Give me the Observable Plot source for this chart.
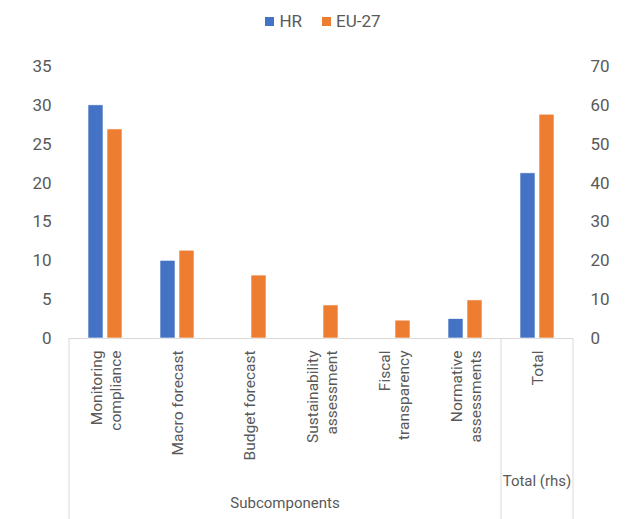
<!DOCTYPE html>
<html>
<head>
<meta charset="utf-8">
<script src="https://cdn.jsdelivr.net/npm/d3@7"></script>
<script src="https://cdn.jsdelivr.net/npm/@observablehq/plot@0.6"></script>
<style>
  body { margin: 0; background: #fff; font-family: Roboto, sans-serif; }
  #legend { height: 42px; display: flex; justify-content: center; align-items: center; color: #595959; font-size: 17px; padding-left: 20px; box-sizing: border-box; width: 626px; }
  .item { display: flex; align-items: center; margin: 0 10px; }
  .sw { width: 9px; height: 9px; margin-right: 5px; }
</style>
</head>
<body>
<div id="legend"></div>
<div id="chart"></div>
<script>
const categories = ["Monitoring compliance", "Macro forecast", "Budget forecast", "Sustainability assessment", "Fiscal transparency", "Normative assessments", "Total"];
const tickLabels = ["Monitoring\ncompliance", "Macro forecast", "Budget forecast", "Sustainability\nassessment", "Fiscal\ntransparency", "Normative\nassessments", "Total"];
const series = ["HR", "EU-27"];
const colors = ["#4472C4", "#ED7D31"];
const hrValues = [30, 10, null, null, null, 2.5];
const euValues = [26.9, 11.3, 8.1, 4.25, 2.3, 4.9];
const totalValues = [42.5, 57.6]; // right-hand scale (0-70)
const leftTicks = [0, 5, 10, 15, 20, 25, 30, 35];
const rhsRatio = 70 / 35;
const groupLabels = ["Subcomponents", "Total (rhs)"];
const groupSpans = [[0, 5], [6, 6]];

// legend
const legend = d3.select("#legend");
series.forEach((s, i) => {
  const it = legend.append("div").attr("class", "item");
  it.append("div").attr("class", "sw").style("background", colors[i]);
  it.append("span").text(s);
});

const data = [];
categories.forEach((c, i) => {
  if (i < hrValues.length) {
    data.push({category: c, series: "HR", value: hrValues[i]});
    data.push({category: c, series: "EU-27", value: euValues[i]});
  } else {
    data.push({category: c, series: "HR", value: totalValues[0] / rhsRatio});
    data.push({category: c, series: "EU-27", value: totalValues[1] / rhsRatio});
  }
});

const W = 626, H = 477;
const plot = Plot.plot({
  width: W, height: H,
  marginTop: 24, marginBottom: 181, marginLeft: 68, marginRight: 52.5,
  style: {fontFamily: "Roboto, sans-serif", color: "#595959", background: "white", overflow: "visible"},
  fx: {domain: categories, padding: 0},
  x: {domain: series, paddingInner: 0.2, paddingOuter: 0.905, axis: null},
  y: {domain: [0, 35]},
  color: {domain: series, range: colors},
  marks: [
    Plot.ruleY([0], {stroke: "#d9d9d9", strokeWidth: 1}),
    Plot.barY(data.filter(d => d.value != null), {fx: "category", x: "series", y: "value", fill: "series", stroke: "white", strokeWidth: 0.6}),
    Plot.axisY({anchor: "left", ticks: leftTicks, tickSize: 0, tickPadding: 18, label: null, fontSize: 17, fill: "#595959"}),
    Plot.axisY({anchor: "right", ticks: leftTicks, tickFormat: d => d * rhsRatio, tickSize: 0, tickPadding: 17, label: null, fontSize: 17, fill: "#595959"}),
    Plot.axisFx({anchor: "bottom", tickFormat: d => tickLabels[categories.indexOf(d)], tickRotate: -90, tickSize: 0, tickPadding: 12, label: null, fontSize: 15.5, lineHeight: 1.2, textAnchor: "end", lineAnchor: "middle", fill: "#595959"})
  ]
});
document.getElementById("chart").appendChild(plot);

// frame lines and group labels using the scales
const fx = plot.scale("fx");
const ys = plot.scale("y");
const y0 = ys.apply(0);
const svg = d3.select(plot);
const bw = fx.bandwidth;
const xs = [fx.apply(categories[0]), fx.apply(categories[6]), fx.apply(categories[6]) + bw];
svg.append("g").selectAll("line").data(xs).join("line")
  .attr("x1", d => d).attr("x2", d => d)
  .attr("y1", y0).attr("y2", H)
  .attr("stroke", "#d9d9d9").attr("stroke-width", 1);
const groupY = [y0 + 166, y0 + 144];
svg.append("g").selectAll("text").data(groupLabels).join("text")
  .attr("x", (d, i) => (fx.apply(categories[groupSpans[i][0]]) + fx.apply(categories[groupSpans[i][1]]) + bw) / 2)
  .attr("y", (d, i) => groupY[i])
  .attr("text-anchor", "middle")
  .attr("dominant-baseline", "middle")
  .attr("font-size", 15)
  .attr("fill", "#595959")
  .attr("font-family", "Roboto, sans-serif")
  .text(d => d);
</script>
</body>
</html>
